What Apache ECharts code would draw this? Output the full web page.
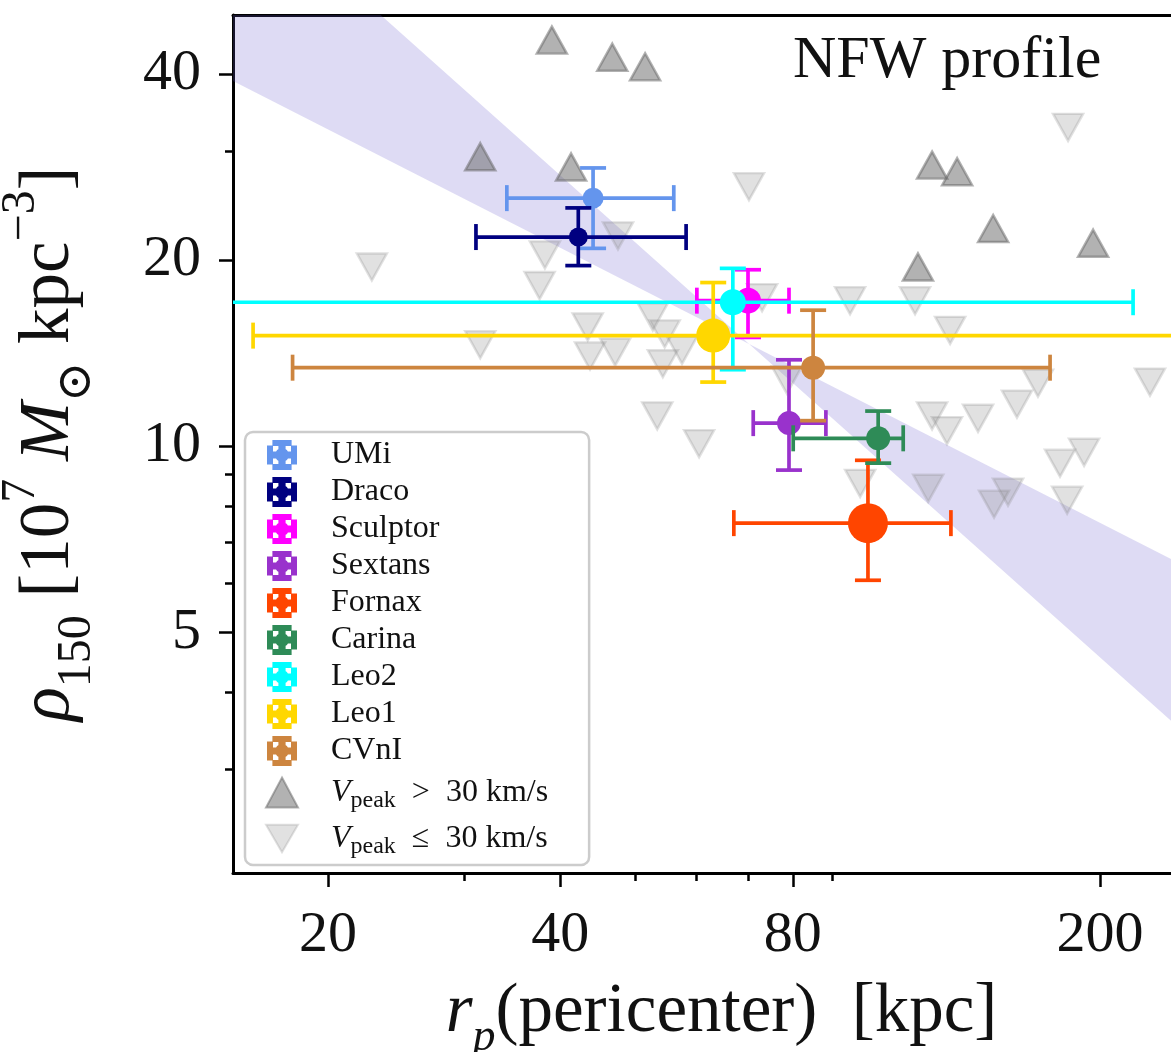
<!DOCTYPE html>
<html>
<head>
<meta charset="utf-8">
<title>rho150 vs pericenter</title>
<script src="https://cdn.jsdelivr.net/npm/echarts@6/dist/echarts.min.js"></script>
<style>
    html, body { margin: 0; padding: 0; background: #fff; }
    #chart { width: 1171px; height: 1052px; }
</style>
</head>
<body>
<div id="chart"></div>
<script>
// dwarf spheroidals: pericenter [kpc] and rho150 [1e7 Msun kpc^-3] with error ranges
const galaxyNames = ['UMi', 'Draco', 'Sculptor', 'Sextans', 'Fornax', 'Carina', 'Leo2', 'Leo1', 'CVnI']
const galaxyColors = ['#6495ED', '#000080', '#FF00FF', '#9932CC', '#FF4500', '#2E8B57', '#00FFFF', '#FFD700', '#CD853F']
const pericenter = [44.1, 42.2, 70.0, 79.1, 100.1, 103.2, 66.9, 63.1, 85.0]
const pericenterLow = [34.1, 31.1, 60.1, 71.1, 67.1, 80.1, 10.0, 16.0, 18.0]
const pericenterHigh = [56.1, 58.2, 79.1, 88.3, 128.2, 111.2, 220.7, 400.0, 172.3]
const rho150 = [25.2, 21.8, 17.2, 10.9, 7.51, 10.3, 17.1, 15.1, 13.4]
const rho150Low = [20.9, 19.6, 15.0, 9.15, 6.07, 9.39, 13.3, 12.7, 11.0]
const rho150High = [28.2, 24.3, 19.3, 13.8, 9.49, 11.4, 19.4, 18.4, 16.6]
const markerSize = [21, 19, 26, 24, 40, 24, 26, 34, 24] // px, style only

// simulated subhaloes
const bigHaloR = [39.0, 46.7, 51.5, 31.5, 41.3, 121.2, 130.6, 145.4, 195.9, 116.2]
const bigHaloRho = [45.4, 42.6, 41.1, 29.4, 28.3, 28.5, 27.8, 22.5, 21.3, 19.5]
const smallHaloR = [22.8, 38.2, 37.6, 47.5, 181.8, 70.2, 94.9, 115.2, 73.0, 127.9, 43.4, 52.7, 54.6, 31.5, 43.7, 47.1, 54.3,
    57.5, 53.4, 60.5, 232.1, 166.2, 156.1, 78.6, 121.2, 126.7, 139.0, 190.7, 177.5, 119.8, 152.0, 145.8, 181.3, 97.8]
const smallHaloRho = [19.5, 20.4, 18.2, 21.9, 32.8, 26.3, 17.2, 17.2, 17.4, 15.4, 15.6, 16.2, 15.2, 14.6, 14.0, 14.2, 13.6,
    14.3, 11.2, 10.1, 12.7, 12.65, 11.7, 12.8, 11.2, 10.6, 11.1, 9.78, 9.39, 8.55, 8.43, 8.06, 8.18, 8.71]

// NFW band: two power-law edges (steep / shallow)
const bandR = [15, 280]
const bandSteep = [81.9, 3.13]
const bandShallow = [39.1, 6.07]

// axes
const xMajorTicks = [20, 40, 80, 200]
const xMinorTicks = [30, 50, 60, 70, 90]
const yMajorTicks = [5, 10, 20, 40]
const yMinorTicks = [3, 4, 6, 7, 8, 9, 30]
const xMin = 15.07, xMax = 277.6
const yMin = 2.04, yMax = 49.85

const bigName = 'Vpeak > 30 km/s'
const smallName = 'Vpeak ≤ 30 km/s'
const serif = 'Liberation Serif, "DejaVu Serif", serif'
const errorBarIcon = 'path://M3.8,0H6.2V10H3.8Z M1.8,0H8.2V2H1.8Z M1.8,8H8.2V10H1.8Z M0,3.8H10V6.2H0Z M0,1.8H2V8.2H0Z M8,1.8H10V8.2H8Z M2.7,5A2.3,2.3 0 1,1 7.3,5A2.3,2.3 0 1,1 2.7,5Z'
const downTriangle = 'path://M0,0L10,0L5,8.66Z'

function renderErrorBar(api, size) {
    const c = api.coord([api.value(0), api.value(1)])
    const xl = api.coord([api.value(2), api.value(1)])[0]
    const xr = api.coord([api.value(3), api.value(1)])[0]
    const yb = api.coord([api.value(0), api.value(4)])[1]
    const yt = api.coord([api.value(0), api.value(5)])[1]
    const color = api.visual('color')
    const cap = 13
    const seg = (x1, y1, x2, y2) => ({
        type: 'line',
        shape: { x1, y1, x2, y2 },
        style: { stroke: color, lineWidth: 3.7 },
    })
    return {
        type: 'group',
        children: [
            seg(xl, c[1], xr, c[1]),
            seg(c[0], yt, c[0], yb),
            seg(xl, c[1] - cap, xl, c[1] + cap),
            seg(xr, c[1] - cap, xr, c[1] + cap),
            seg(c[0] - cap, yt, c[0] + cap, yt),
            seg(c[0] - cap, yb, c[0] + cap, yb),
            { type: 'circle', shape: { cx: c[0], cy: c[1], r: size / 2 }, style: { fill: color } },
        ],
    }
}

const galaxySeries = galaxyNames.map((name, i) => ({
    type: 'custom',
    name: name,
    clip: true,
    silent: true,
    z: 10,
    itemStyle: { color: galaxyColors[i] },
    encode: { x: 0, y: 1 },
    data: [[pericenter[i], rho150[i], pericenterLow[i], pericenterHigh[i], rho150Low[i], rho150High[i]]],
    renderItem: (params, api) => renderErrorBar(api, markerSize[i]),
}))

const tickStyle = { color: '#000', width: 2.5 }

const option = {
    animation: false,
    title: {
        text: 'NFW profile',
        left: 788,
        top: 26,
        textStyle: { fontFamily: serif, fontSize: 60, fontWeight: 'normal', color: '#111' },
    },
    grid: { left: 233, top: 15, width: 977, height: 858, outerBoundsMode: 'none', containLabel: false },
    legend: {
        orient: 'vertical',
        left: 245,
        top: 432,
        padding: [7, 41, 6, 20],
        itemWidth: 32,
        itemHeight: 30,
        itemGap: 5,
        selectedMode: false,
        backgroundColor: 'rgba(255,255,255,0.85)',
        borderColor: '#cccccc',
        borderWidth: 2.5,
        borderRadius: 8,
        data: galaxyNames.map((n) => ({ name: n, icon: errorBarIcon }))
            .concat([{ name: bigName, icon: 'triangle' }, { name: smallName, icon: downTriangle }]),
        formatter: function (name) {
            if (name === bigName) return '{gap|}{it|V}{sub|peak}{v|  >  30 km/s}'
            if (name === smallName) return '{gap|}{it|V}{sub|peak}{v|  ≤  30 km/s}'
            return '{gap|}{n|' + name + '}'
        },
        textStyle: {
            fontFamily: serif,
            fontSize: 32,
            color: '#111',
            lineHeight: 30,
            rich: {
                gap: { width: 28, fontSize: 10, lineHeight: 10 },
                n: { fontSize: 32, lineHeight: 30 },
                v: { fontSize: 32, lineHeight: 41 },
                it: { fontSize: 32, fontStyle: 'italic', lineHeight: 41 },
                sub: { fontSize: 24, verticalAlign: 'bottom', lineHeight: 22 },
            },
        },
    },
    xAxis: [
        {
            type: 'log',
            min: xMin,
            max: xMax,
            position: 'bottom',
            axisLine: { show: true, onZero: false, lineStyle: { color: '#000', width: 3 } },
            axisTick: { show: true, customValues: xMajorTicks, length: 14, lineStyle: tickStyle },
            axisLabel: { show: true, customValues: xMajorTicks, margin: 34, fontSize: 58, fontFamily: serif, color: '#111' },
            splitLine: { show: false },
            name: '{it|r}{sub|p}{n|(pericenter)  [kpc]}',
            nameLocation: 'middle',
            nameGap: 92,
            nameMoveOverlap: false,
            nameTextStyle: {
                fontFamily: serif,
                fontSize: 69,
                color: '#111',
                rich: {
                    n: { fontSize: 69, lineHeight: 96 },
                    it: { fontSize: 69, fontStyle: 'italic', lineHeight: 96 },
                    sub: { fontSize: 46, fontStyle: 'italic', verticalAlign: 'bottom', lineHeight: 60 },
                },
            },
        },
        {
            type: 'log',
            min: xMin,
            max: xMax,
            position: 'bottom',
            axisLine: { show: false, onZero: false },
            axisTick: { show: true, customValues: xMinorTicks, length: 8, lineStyle: tickStyle },
            axisLabel: { show: false },
            splitLine: { show: false },
        },
        {
            type: 'log',
            min: xMin,
            max: xMax,
            position: 'top',
            axisLine: { show: true, onZero: false, lineStyle: { color: '#000', width: 3 } },
            axisTick: { show: false },
            axisLabel: { show: false },
            splitLine: { show: false },
        },
    ],
    yAxis: [
        {
            type: 'log',
            min: yMin,
            max: yMax,
            position: 'left',
            axisLine: { show: true, onZero: false, lineStyle: { color: '#000', width: 3 } },
            axisTick: { show: true, customValues: yMajorTicks, length: 14, lineStyle: tickStyle },
            axisLabel: { show: true, customValues: yMajorTicks, margin: 32, fontSize: 58, fontFamily: serif, color: '#111' },
            splitLine: { show: false },
            name: '{it|ρ}{sub|150}{n| [10}{sup|7}{n| }{it|M}{sub|⊙}{n| kpc}{sup|−3}{n|]}',
            nameLocation: 'middle',
            nameGap: 132,
            nameMoveOverlap: false,
            nameTextStyle: {
                fontFamily: serif,
                fontSize: 71,
                color: '#111',
                rich: {
                    n: { fontSize: 71, lineHeight: 104 },
                    it: { fontSize: 71, fontStyle: 'italic', lineHeight: 104 },
                    sub: { fontSize: 48, verticalAlign: 'bottom', lineHeight: 66 },
                    sup: { fontSize: 48, verticalAlign: 'top', lineHeight: 66 },
                },
            },
        },
        {
            type: 'log',
            min: yMin,
            max: yMax,
            position: 'left',
            axisLine: { show: false, onZero: false },
            axisTick: { show: true, customValues: yMinorTicks, length: 8, lineStyle: tickStyle },
            axisLabel: { show: false },
            splitLine: { show: false },
        },
    ],
    series: [
        {
            type: 'custom',
            name: 'band',
            clip: true,
            silent: true,
            z: 1,
            data: [[bandR[0], bandShallow[0]]],
            renderItem: function (params, api) {
                const pts = []
                bandR.forEach((r, i) => pts.push(api.coord([r, bandSteep[i]])))
                for (let i = bandR.length - 1; i >= 0; i--) {
                    pts.push(api.coord([bandR[i], bandShallow[i]]))
                }
                return { type: 'polygon', shape: { points: pts }, style: { fill: 'rgba(106,90,205,0.22)' } }
            },
        },
        {
            type: 'scatter',
            name: bigName,
            clip: true,
            silent: true,
            z: 5,
            symbol: 'triangle',
            symbolSize: [30, 27],
            itemStyle: { color: '#666', borderColor: '#666', borderWidth: 2.5, opacity: 0.5 },
            data: bigHaloR.map((r, i) => [r, bigHaloRho[i]]),
        },
        {
            type: 'scatter',
            name: smallName,
            clip: true,
            silent: true,
            z: 5,
            symbol: downTriangle,
            symbolSize: [30, 27],
            itemStyle: { color: '#888', borderColor: '#888', borderWidth: 2.5, opacity: 0.25 },
            data: smallHaloR.map((r, i) => [r, smallHaloRho[i]]),
        },
    ].concat(galaxySeries),
}

const myChart = echarts.init(document.getElementById('chart'), null, { renderer: 'canvas' })
myChart.setOption(option)
</script>
</body>
</html>
